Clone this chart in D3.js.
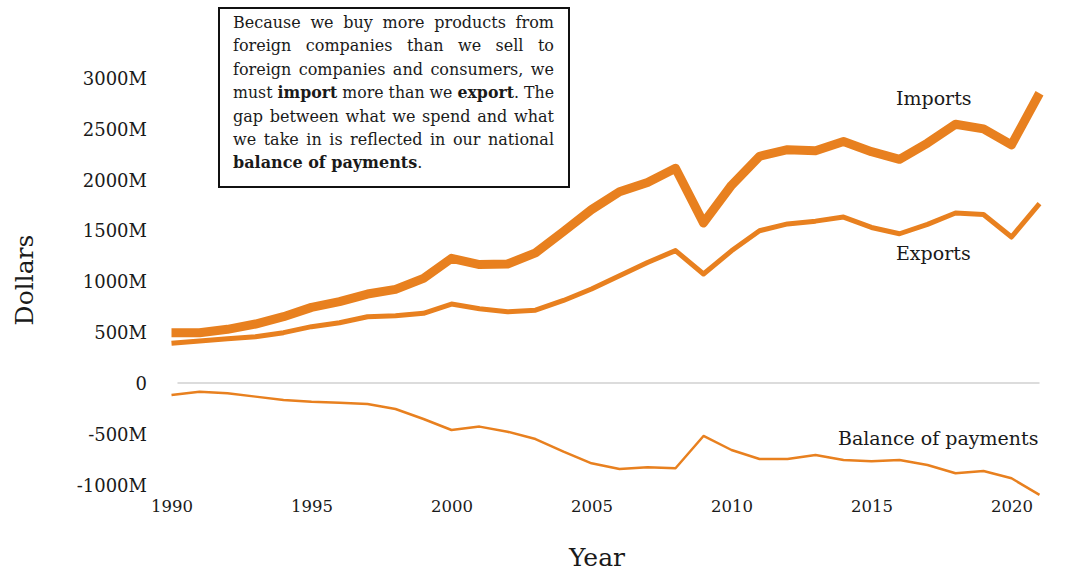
<!DOCTYPE html>
<html>
<head>
<meta charset="utf-8">
<script src="https://cdn.jsdelivr.net/npm/d3@7/dist/d3.min.js"></script>
<style>
  html, body { margin: 0; padding: 0; background: #ffffff; }
  svg { display: block; }
  text { font-family: "DejaVu Serif", serif; fill: #1a1a1a; }
</style>
</head>
<body>
<svg id="chart" width="1073" height="571"></svg>
<script>
const years = [1990,1991,1992,1993,1994,1995,1996,1997,1998,1999,2000,2001,2002,2003,2004,2005,2006,2007,2008,2009,2010,2011,2012,2013,2014,2015,2016,2017,2018,2019,2020,2021];
const imports = [495,495,528,580,652,744,800,875,921,1029,1226,1165,1170,1280,1490,1705,1881,1972,2112,1575,1945,2230,2295,2285,2375,2275,2200,2360,2545,2500,2342,2850];
const exports = [390,413,436,455,495,554,593,652,662,685,777,730,700,716,812,925,1055,1185,1302,1072,1300,1498,1565,1592,1632,1530,1468,1560,1672,1658,1436,1765];
const balance = [-118,-85,-101,-134,-167,-184,-194,-206,-256,-354,-462,-429,-479,-551,-675,-790,-846,-829,-839,-521,-659,-747,-747,-708,-757,-770,-757,-806,-888,-865,-937,-1101];
const yTicks = [-1000,-500,0,500,1000,1500,2000,2500,3000];
const xTicks = [1990,1995,2000,2005,2010,2015,2020];
const seriesNames = ["Imports","Exports","Balance of payments"];
const noteLines = [
  [["Because we buy more products from", false]],
  [["foreign companies than we sell to", false]],
  [["foreign companies and consumers, we", false]],
  [["must ", false], ["import", true], [" more than we ", false], ["export", true], [". The", false]],
  [["gap between what we spend and what", false]],
  [["we take in is reflected in our national", false]],
  [["balance of payments", true], [".", false]]
];

const svg = d3.select("#chart");
const orange = "#e8801f";

const x = d3.scaleLinear().domain([1990, 2020]).range([171.5, 1011.5]);
const y = d3.scaleLinear().domain([0, 3000]).range([383, 78]);

// zero line
svg.append("line")
  .attr("x1", x(1990) + 6).attr("x2", x(2021))
  .attr("y1", y(0)).attr("y2", y(0))
  .attr("stroke", "#dcdcdc").attr("stroke-width", 2);

// y axis
const yAxis = svg.append("g")
  .attr("transform", "translate(147,0)")
  .call(d3.axisLeft(y).tickValues(yTicks).tickSize(0).tickPadding(0)
    .tickFormat(d => d === 0 ? "0" : d + "M"));
yAxis.select(".domain").remove();
yAxis.selectAll("text")
  .attr("font-family", "DejaVu Serif, serif")
  .attr("font-size", 18).attr("fill", "#1a1a1a")
  .attr("dy", "0.36em").attr("x", 0);

// x axis
const xAxis = svg.append("g")
  .attr("transform", "translate(0,500)")
  .call(d3.axisBottom(x).tickValues(xTicks).tickSize(0).tickPadding(0)
    .tickFormat(d3.format("d")));
xAxis.select(".domain").remove();
xAxis.selectAll("text")
  .attr("font-family", "DejaVu Serif, serif")
  .attr("font-size", 16.5).attr("fill", "#1a1a1a")
  .attr("y", 0).attr("dy", "0.71em");

// axis titles
svg.append("text")
  .attr("transform", "translate(33,280) rotate(-90)")
  .attr("text-anchor", "middle")
  .attr("font-size", 25)
  .text("Dollars");
svg.append("text")
  .attr("x", 597).attr("y", 566)
  .attr("text-anchor", "middle")
  .attr("font-size", 25)
  .text("Year");

// lines
const line = vals => d3.line()
  .x((d, i) => x(years[i]))
  .y(d => y(d))(vals);

const series = [
  { vals: imports, w: 9 },
  { vals: exports, w: 5 },
  { vals: balance, w: 2.5 }
];
svg.selectAll("path.series")
  .data(series)
  .join("path")
  .attr("class", "series")
  .attr("d", d => line(d.vals))
  .attr("fill", "none")
  .attr("stroke", orange)
  .attr("stroke-width", d => d.w)
  .attr("stroke-linejoin", "round");

// series labels
const labelPos = [
  { x: 896, y: 105 },
  { x: 896, y: 260 },
  { x: 838, y: 445 }
];
svg.selectAll("text.slabel")
  .data(seriesNames)
  .join("text")
  .attr("class", "slabel")
  .attr("x", (d, i) => labelPos[i].x)
  .attr("y", (d, i) => labelPos[i].y)
  .attr("font-size", 19)
  .text(d => d);

// note box
svg.append("rect")
  .attr("x", 219).attr("y", 8)
  .attr("width", 350).attr("height", 179)
  .attr("fill", "#ffffff")
  .attr("stroke", "#111111").attr("stroke-width", 2);

const lineX = 233, lineW = 321, firstBase = 28, lh = 23.4;
noteLines.forEach((parts, li) => {
  const t = svg.append("text")
    .attr("x", lineX)
    .attr("y", firstBase + li * lh)
    .attr("font-size", 16)
    .attr("fill", "#222");
  parts.forEach(([s, b]) => {
    t.append("tspan").attr("font-weight", b ? "bold" : "normal").text(s);
  });
  if (li < noteLines.length - 1) {
    const len = t.node().getComputedTextLength();
    const fullText = parts.map(p => p[0]).join("");
    const spaces = (fullText.match(/ /g) || []).length;
    if (len < lineW) {
      if (spaces > 0) t.attr("word-spacing", (lineW - len) / spaces);
    } else {
      t.attr("textLength", lineW).attr("lengthAdjust", "spacingAndGlyphs");
    }
  }
});
</script>
</body>
</html>
